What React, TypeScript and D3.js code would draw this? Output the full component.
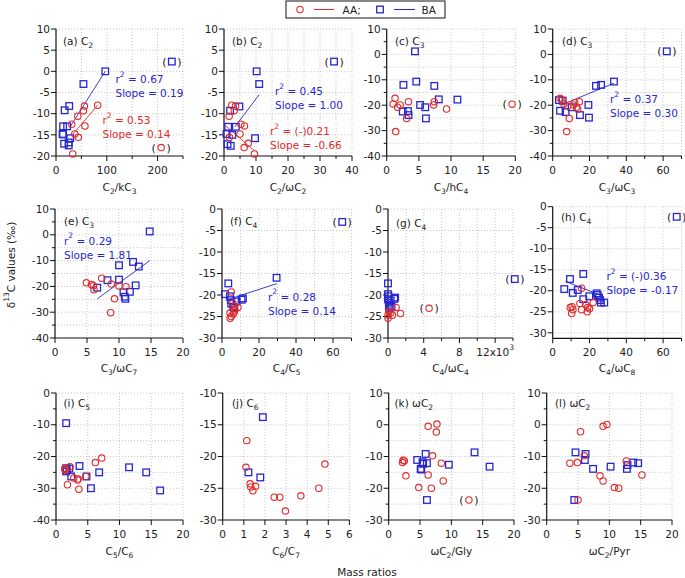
import React from "react";
import * as d3 from "d3";

type Pt = [number, number];

// ---------- data (x = mass ratio, y = δ13C ‰) ----------
const aRed: Pt[] = [[82,-8],[56,-8.2],[54,-9.3],[43,-10.6],[31,-12.5],[57,-12.9],[37,-14.8],[44,-15.6],[33,-19.5]];
const aRedOut: Pt[] = [[207,-18]];
const aBlue: Pt[] = [[97,0],[54,-3],[26,-8.2],[17,-9.2],[14,-13],[22,-13],[13,-14.8],[14,-14.9],[28,-15.8],[16,-17.1],[25,-17.5],[25,-16.8]];
const aBlueOut: Pt[] = [[228,2.3]];

const bRed: Pt[] = [[2.4,-8],[3.6,-8.2],[3.2,-9.3],[1.6,-10.6],[5.3,-12.5],[6.4,-12.9],[5,-14.8],[1.7,-15.6],[7.6,-17],[6.3,-18],[9.5,-19.5]];
const bBlue: Pt[] = [[10.2,0],[11,-3],[4.8,-8.3],[1.9,-9.3],[1.3,-13.1],[3.7,-13.1],[0.8,-14.8],[2.6,-15],[9.7,-15.8],[1.1,-17.2],[2.1,-17.6]];
const bBlueOut: Pt[] = [[34.4,2.3]];

const cRed: Pt[] = [[1.3,-17.3],[1,-19.5],[1.7,-20.8],[2.1,-19.9],[3.4,-18.6],[3.1,-25.2],[1.4,-30.4],[7.3,-19.9],[7.4,-18.6],[9.3,-21.5]];
const cRedOut: Pt[] = [[19.5,-19.6]];
const cBlue: Pt[] = [[4.4,1.2],[2.6,-12],[4.6,-10.7],[7.4,-12.4],[8.1,-17.7],[11,-17.8],[5.2,-19.9],[6,-20.8],[2.5,-22.5],[3.3,-22.3],[3.4,-23.9],[6.1,-25.2]];

const dRed: Pt[] = [[4,-17.3],[6.1,-19.5],[8.2,-20.3],[11.3,-19.9],[14.5,-18.6],[13,-20.8],[13.6,-21.6],[9,-25.2],[7.6,-30.4],[12,-19],[5,-18]];
const dBlue: Pt[] = [[33.3,-10.7],[26.3,-12],[23.5,-12.4],[19.4,-19.9],[19.7,-24.9],[14.8,-23.9],[10.3,-20.8],[4,-22.2],[7,-22.7],[3.4,-18],[5.4,-18.2]];
const dBlueOut: Pt[] = [[62,1.2]];

const eRed: Pt[] = [[4.9,-18.6],[5.7,-19.3],[6,-19.7],[6.1,-21.3],[7.3,-16.8],[8.8,-19.1],[10,-19.8],[11.1,-20.1],[9.3,-24.8],[8.7,-30.2]];
const eBlue: Pt[] = [[14.8,1.3],[10,-11.8],[12.2,-10.5],[13.1,-12.3],[8.2,-17.6],[10,-17.4],[12.6,-19.6],[10.7,-22.3],[11.7,-22.1],[10.9,-24],[11,-24.8],[6.6,-20.5]];

const fRed: Pt[] = [[5,-19.3],[5.9,-21.9],[6.8,-22.6],[8.6,-22.9],[4.3,-24.2],[5,-25],[6,-24.5],[6.5,-24],[7,-23.5],[4.4,-25.4]];
const fBlue: Pt[] = [[29.5,-16],[3.4,-17.3],[1.6,-19.8],[4.3,-20.3],[11.3,-20.8],[10.6,-21.1],[7.9,-21.5],[4.8,-21.2],[5,-22],[6.1,-22.8],[6.6,-23]];
const fBlueOut: Pt[] = [[65,-3]];

const gRed: Pt[] = [[0.9,-22.9],[1.4,-24.3],[0.5,-24.7],[0,-24.7],[0,-25.4],[0.1,-23.9],[0.3,-24.2]];
const gRedOut: Pt[] = [[4.6,-23.1]];
const gBlue: Pt[] = [[0,-17.3],[0,-19.8],[0.05,-20.3],[0.7,-20.9],[0.8,-20.6],[0.3,-21.3],[0.1,-21.8],[0.2,-22.3],[0.1,-23],[0.4,-22.7],[0,-21]];
const gBlueOut: Pt[] = [[14.2,-16.3]];

const hRed: Pt[] = [[15.7,-19.4],[9.5,-24],[10.5,-23.8],[11,-24.5],[10.3,-25.4],[14.8,-23],[15.7,-24.5],[18,-23.3],[19,-24],[20,-24.3],[22,-22.8],[18.8,-25]];
const hBlue: Pt[] = [[9.4,-17.2],[16.6,-16],[6.3,-19.6],[10.9,-20.5],[13.6,-19.8],[16.6,-22],[19.9,-21.3],[23.9,-20.6],[24.4,-21],[25.2,-21.6],[25.7,-22.2],[26.2,-22.8],[28,-22.8]];
const hBlueOut: Pt[] = [[67.4,-2.4]];

const iRed: Pt[] = [[7.2,-20.5],[6.2,-21.9],[2.2,-23.2],[1.8,-28.9],[3.6,-30.3],[3.5,-27.1],[3.4,-27.4],[2.8,-26.8],[4.7,-26.3],[1.4,-24],[1.5,-24.4],[1.4,-23.7]];
const iBlue: Pt[] = [[1.6,-9.5],[3.7,-23],[11.5,-23.4],[14.2,-25],[16.4,-30.7],[6.8,-25],[4.8,-26.3],[5.5,-30],[2.4,-26.3],[1.6,-23.7],[1.7,-24.3],[2.1,-23.8],[1.6,-24.7]];

const jRed: Pt[] = [[1.14,-17.5],[1.1,-21.7],[1.3,-24.3],[1.33,-24.8],[1.43,-25.4],[1.56,-24.7],[2.44,-26.4],[2.7,-26.4],[2.97,-28.6],[3.7,-26.2],[4.55,-25],[4.84,-21.2]];
const jBlue: Pt[] = [[1.9,-13.8],[1.22,-22.5],[1.78,-23.3]];

const kRed: Pt[] = [[6.3,-0.5],[7.7,0.2],[7.6,-2.3],[7,-9.8],[2.3,-11.2],[2.2,-11.9],[2.5,-11.4],[2.75,-16.1],[6.3,-15.8],[8.4,-12.1],[8.7,-17.7],[4.8,-19.8],[6.8,-20]];
const kRedOut: Pt[] = [[12.8,-23.7]];
const kBlue: Pt[] = [[5.9,-9.2],[4.55,-11.1],[5.4,-11.8],[5.5,-12.3],[6.1,-12.1],[5.1,-13.9],[5.2,-14.1],[9.6,-12.6],[13.7,-8.7],[16.1,-13.2],[6.1,-23.7]];

const lRed: Pt[] = [[5.4,-2.2],[9,-0.5],[9.6,0.1],[3.7,-12.1],[4.9,-11.9],[6,-9.8],[8.5,-16.1],[9,-17.7],[10.8,-19.8],[11.5,-20],[12.7,-11.4],[15.2,-15.8],[5,-23.7]];
const lBlue: Pt[] = [[4.6,-8.7],[6.2,-9.2],[6.1,-11.1],[7.4,-13.9],[10.2,-13.2],[12.8,-13.9],[12.9,-12.7],[13.8,-11.9],[14.6,-12.1],[4.4,-23.7]];

// regression fits: [x0, x1, slope, intercept]
const aFitBlue = [27, 97, 0.19, -18.4];
const aFitRed = [33, 82, 0.14, -19.5];
const bFitBlue = [3.4, 11, 1.0, -16.5];
const bFitRed = [0.5, 9.5, -0.66, -12.5];
const dFitBlue = [5, 33.3, 0.30, -21.3];
const eFitBlue = [6.6, 14.8, 1.81, -36.8];
const fFitBlue = [2, 29.5, 0.14, -21.5];
const hFitBlue = [7, 27, -0.17, -16.6];

const seq = (a: number, b: number, s: number) => d3.range(a, b + s / 2, s);

const RED = "#e22a2a";
const BLUE = "#2626d2";
const FONT = "DejaVu Sans, Verdana, sans-serif";
const FS = 10.5;

function segs(text: string) {
  const out: { t: string; m: number }[] = [];
  let i = 0, buf = "";
  while (i < text.length) {
    const c = text[i];
    if (c === "_" || c === "^") {
      if (buf) { out.push({ t: buf, m: 0 }); buf = ""; }
      let j = i + 1, s = "";
      if (text[j] === "{") { j++; while (j < text.length && text[j] !== "}") { s += text[j]; j++; } j++; }
      else { s = text[j]; j++; }
      out.push({ t: s, m: c === "_" ? 1 : -1 });
      i = j;
    } else { buf += c; i++; }
  }
  if (buf) out.push({ t: buf, m: 0 });
  return out;
}

function rich(text: string, fs: number) {
  let cur = 0;
  return segs(text).map((s, k) => {
    const target = s.m === 1 ? fs * 0.3 : s.m === -1 ? -fs * 0.6 : 0;
    const dy = target - cur;
    cur = target;
    return (
      <tspan key={k} dy={dy} fontSize={s.m ? fs * 0.72 : fs}>{s.t}</tspan>
    );
  });
}

interface Ann { dx: number; dy: number; color: string; lines: string[] }
interface PanelCfg {
  left: number; right: number; top: number; bottom: number;
  xDom: number[]; yDom: number[];
  xMajor: number[]; xMinor: number[]; yMajor: number[]; yMinor: number[];
  xFmt?: (v: number) => string;
  red: Pt[]; blue: Pt[]; redOut?: Pt[]; blueOut?: Pt[];
  fits: { f: number[]; color: string }[];
  label: string; labelPos: number[];
  xTitle: string; titleY: number;
  anns: Ann[];
}

const panels: PanelCfg[] = [
  { left: 56, right: 183, top: 29, bottom: 156, xDom: [0, 250], yDom: [-20, 10],
    xMajor: [0, 100, 200], xMinor: [50, 150, 250], yMajor: seq(-20, 10, 5), yMinor: [],
    red: aRed, blue: aBlue, redOut: aRedOut, blueOut: aBlueOut,
    fits: [{ f: aFitBlue, color: BLUE }, { f: aFitRed, color: RED }],
    label: "(a) C_2", labelPos: [63, 45], xTitle: "C_2/kC_3", titleY: 191,
    anns: [{ dx: 115.5, dy: 83, color: BLUE, lines: ["r^2 = 0.67", "Slope = 0.19"] },
           { dx: 102.5, dy: 124, color: RED, lines: ["r^2 = 0.53", "Slope = 0.14"] }] },
  { left: 224, right: 352, top: 29, bottom: 156, xDom: [0, 40], yDom: [-20, 10],
    xMajor: seq(0, 40, 10), xMinor: seq(5, 35, 10), yMajor: seq(-20, 10, 5), yMinor: [],
    red: bRed, blue: bBlue, blueOut: bBlueOut,
    fits: [{ f: bFitBlue, color: BLUE }, { f: bFitRed, color: RED }],
    label: "(b) C_2", labelPos: [232, 45], xTitle: "C_2/ωC_2", titleY: 191,
    anns: [{ dx: 275, dy: 95, color: BLUE, lines: ["r^2 = 0.45", "Slope = 1.00"] },
           { dx: 270, dy: 135, color: RED, lines: ["r^2 = (-)0.21", "Slope = -0.66"] }] },
  { left: 386.7, right: 515.3, top: 29, bottom: 156, xDom: [0, 20], yDom: [-40, 10],
    xMajor: seq(0, 20, 5), xMinor: [], yMajor: seq(-40, 10, 10), yMinor: seq(-35, 5, 10),
    red: cRed, blue: cBlue, redOut: cRedOut,
    fits: [], label: "(c) C_3", labelPos: [395, 45], xTitle: "C_3/hC_4", titleY: 191, anns: [] },
  { left: 552.7, right: 681.5, top: 29, bottom: 156, xDom: [0, 70], yDom: [-40, 10],
    xMajor: [0, 20, 40, 60], xMinor: [10, 30, 50, 70], yMajor: seq(-40, 10, 10), yMinor: seq(-35, 5, 10),
    red: dRed, blue: dBlue, blueOut: dBlueOut,
    fits: [{ f: dFitBlue, color: BLUE }],
    label: "(d) C_3", labelPos: [562, 45], xTitle: "C_3/ωC_3", titleY: 191,
    anns: [{ dx: 610, dy: 103, color: BLUE, lines: ["r^2 = 0.37", "Slope = 0.30"] }] },
  { left: 55, right: 183, top: 209, bottom: 338, xDom: [0, 20], yDom: [-40, 10],
    xMajor: seq(0, 20, 5), xMinor: [], yMajor: seq(-40, 10, 10), yMinor: seq(-35, 5, 10),
    red: eRed, blue: eBlue,
    fits: [{ f: eFitBlue, color: BLUE }],
    label: "(e) C_3", labelPos: [64, 225], xTitle: "C_3/ωC_7", titleY: 372,
    anns: [{ dx: 64, dy: 244.5, color: BLUE, lines: ["r^2 = 0.29", "Slope = 1.81"] }] },
  { left: 222, right: 351.5, top: 209, bottom: 338, xDom: [0, 70], yDom: [-30, 0],
    xMajor: [0, 20, 40, 60], xMinor: [10, 30, 50, 70], yMajor: seq(-30, 0, 5), yMinor: [],
    red: fRed, blue: fBlue, blueOut: fBlueOut,
    fits: [{ f: fFitBlue, color: BLUE }],
    label: "(f) C_4", labelPos: [230, 225], xTitle: "C_4/C_5", titleY: 372,
    anns: [{ dx: 268, dy: 300.5, color: BLUE, lines: ["r^2 = 0.28", "Slope = 0.14"] }] },
  { left: 388, right: 513, top: 209, bottom: 338, xDom: [0, 14], yDom: [-30, 0],
    xMajor: [0, 4, 8, 12], xMinor: [2, 6, 10, 14], yMajor: seq(-30, 0, 5), yMinor: [],
    xFmt: (v) => (v === 12 ? "12x10^3" : String(v)),
    red: gRed, blue: gBlue, redOut: gRedOut, blueOut: gBlueOut,
    fits: [], label: "(g) C_4", labelPos: [396, 227], xTitle: "C_4/ωC_4", titleY: 372, anns: [] },
  { left: 552.7, right: 681.5, top: 206.7, bottom: 338.3, xDom: [0, 70], yDom: [-31.3, 0],
    xMajor: [0, 20, 40, 60], xMinor: [10, 30, 50, 70], yMajor: seq(-30, 0, 5), yMinor: [],
    red: hRed, blue: hBlue, blueOut: hBlueOut,
    fits: [{ f: hFitBlue, color: BLUE }],
    label: "(h) C_4", labelPos: [561, 221], xTitle: "C_4/ωC_8", titleY: 372,
    anns: [{ dx: 606.5, dy: 280, color: BLUE, lines: ["r^2 = (-)0.36", "Slope = -0.17"] }] },
  { left: 56, right: 183, top: 393, bottom: 520, xDom: [0, 20], yDom: [-40, 0],
    xMajor: seq(0, 20, 5), xMinor: [], yMajor: seq(-40, 0, 10), yMinor: seq(-35, -5, 10),
    red: iRed, blue: iBlue,
    fits: [], label: "(i) C_5", labelPos: [63.5, 407], xTitle: "C_5/C_6", titleY: 555, anns: [] },
  { left: 222.7, right: 349.4, top: 393, bottom: 520, xDom: [0, 6], yDom: [-30, -10],
    xMajor: seq(0, 6, 1), xMinor: [], yMajor: seq(-30, -10, 5), yMinor: [],
    red: jRed, blue: jBlue,
    fits: [], label: "(j) C_6", labelPos: [232, 407], xTitle: "C_6/C_7", titleY: 555, anns: [] },
  { left: 388.7, right: 514, top: 393, bottom: 520, xDom: [0, 20], yDom: [-30, 10],
    xMajor: seq(0, 20, 5), xMinor: [], yMajor: seq(-30, 10, 10), yMinor: seq(-25, 5, 10),
    red: kRed, blue: kBlue, redOut: kRedOut,
    fits: [], label: "(k) ωC_2", labelPos: [394.5, 407], xTitle: "ωC_2/Gly", titleY: 555, anns: [] },
  { left: 546.7, right: 672, top: 393, bottom: 520, xDom: [0, 20], yDom: [-30, 10],
    xMajor: seq(0, 20, 5), xMinor: [], yMajor: seq(-30, 10, 10), yMinor: seq(-25, 5, 10),
    red: lRed, blue: lBlue,
    fits: [], label: "(l) ωC_2", labelPos: [555, 407], xTitle: "ωC_2/Pyr", titleY: 555, anns: [] },
];

const SQ = 6.6;
const CR = 3.2;

function Square({ cx, cy }: { cx: number; cy: number }) {
  return <rect x={cx - SQ / 2} y={cy - SQ / 2} width={SQ} height={SQ} fill="none" stroke={BLUE} strokeWidth={1.3} />;
}
function Circ({ cx, cy }: { cx: number; cy: number }) {
  return <circle cx={cx} cy={cy} r={CR} fill="none" stroke={RED} strokeWidth={1.1} />;
}
function Parens({ cx, cy }: { cx: number; cy: number }) {
  return (
    <g fontFamily={FONT} fontSize={11} fill="#222" textAnchor="middle">
      <text x={cx - 7.5} y={cy + 4}>(</text>
      <text x={cx + 7.5} y={cy + 4}>)</text>
    </g>
  );
}

function Panel({ p }: { p: PanelCfg }) {
  const x = d3.scaleLinear().domain(p.xDom).range([p.left, p.right]);
  const y = d3.scaleLinear().domain(p.yDom).range([p.bottom, p.top]);
  const gx = [...p.xMajor, ...p.xMinor].filter((v) => v > p.xDom[0] && v <= p.xDom[1]);
  const gy = [...p.yMajor, ...p.yMinor].filter((v) => v > p.yDom[0] && v <= p.yDom[1]);
  const fmt = p.xFmt || ((v: number) => String(v));
  const line = d3.line<Pt>().x((d) => x(d[0])).y((d) => y(d[1]));
  return (
    <g>
      {gx.map((v) => (
        <line key={"gx" + v} x1={x(v)} x2={x(v)} y1={p.top} y2={p.bottom} stroke="#b8b8b8" strokeWidth={0.8} strokeDasharray="1,2" />
      ))}
      {gy.map((v) => (
        <line key={"gy" + v} x1={p.left} x2={p.right} y1={y(v)} y2={y(v)} stroke="#b8b8b8" strokeWidth={0.8} strokeDasharray="1,2" />
      ))}
      <line x1={p.left} x2={p.left} y1={p.top} y2={p.bottom} stroke="#111" strokeWidth={1.2} />
      <line x1={p.left} x2={p.right} y1={p.bottom} y2={p.bottom} stroke="#111" strokeWidth={1.2} />
      {p.yMajor.map((v) => (
        <g key={"ym" + v}>
          <line x1={p.left - 5} x2={p.left} y1={y(v)} y2={y(v)} stroke="#111" strokeWidth={1} />
          <text x={p.left - 6} y={y(v)} dy="0.35em" textAnchor="end" fontFamily={FONT} fontSize={FS} fill="#222">{String(v)}</text>
        </g>
      ))}
      {p.yMinor.map((v) => (
        <line key={"yn" + v} x1={p.left - 3} x2={p.left} y1={y(v)} y2={y(v)} stroke="#111" strokeWidth={1} />
      ))}
      {p.xMajor.map((v) => (
        <g key={"xm" + v}>
          <line x1={x(v)} x2={x(v)} y1={p.bottom} y2={p.bottom + 5} stroke="#111" strokeWidth={1} />
          <text x={x(v)} y={p.bottom + 18} textAnchor="middle" fontFamily={FONT} fontSize={FS} fill="#222">{rich(fmt(v), FS)}</text>
        </g>
      ))}
      {p.xMinor.map((v) => (
        <line key={"xn" + v} x1={x(v)} x2={x(v)} y1={p.bottom} y2={p.bottom + 3} stroke="#111" strokeWidth={1} />
      ))}
      {p.fits.map((ft, k) => {
        const [x0, x1, s, c] = ft.f;
        const pts: Pt[] = [[x0, s * x0 + c], [x1, s * x1 + c]];
        return <path key={"f" + k} d={line(pts) || ""} stroke={ft.color} strokeWidth={0.9} fill="none" />;
      })}
      {p.blue.map((d, k) => <Square key={"b" + k} cx={x(d[0])} cy={y(d[1])} />)}
      {(p.blueOut || []).map((d, k) => (
        <g key={"bo" + k}><Square cx={x(d[0])} cy={y(d[1])} /><Parens cx={x(d[0])} cy={y(d[1])} /></g>
      ))}
      {p.red.map((d, k) => <Circ key={"r" + k} cx={x(d[0])} cy={y(d[1])} />)}
      {(p.redOut || []).map((d, k) => (
        <g key={"ro" + k}><Circ cx={x(d[0])} cy={y(d[1])} /><Parens cx={x(d[0])} cy={y(d[1])} /></g>
      ))}
      <text x={p.labelPos[0]} y={p.labelPos[1]} fontFamily={FONT} fontSize={FS} fill="#222">{rich(p.label, FS)}</text>
      {p.anns.map((a, k) => (
        <g key={"a" + k} fontFamily={FONT} fontSize={FS} fill={a.color}>
          {a.lines.map((t, i) => (
            <text key={i} x={a.dx} y={a.dy + i * 14}>{rich(t, FS)}</text>
          ))}
        </g>
      ))}
      <text x={(p.left + p.right) / 2} y={p.titleY} textAnchor="middle" fontFamily={FONT} fontSize={FS} fill="#222">{rich(p.xTitle, FS)}</text>
    </g>
  );
}

export default function App() {
  return (
    <svg width={685} height={578} style={{ position: "absolute", left: 0, top: 0, background: "#fff" }}>
      <rect width={685} height={578} fill="#fff" />
      {panels.map((p, i) => <Panel key={i} p={p} />)}
      <g fontFamily={FONT} fontSize={FS} fill="#222">
        <rect x={286} y={1} width={159} height={17} fill="#fff" stroke="#111" strokeWidth={1} />
        <Circ cx={300} cy={9.5} />
        <line x1={314} x2={334} y1={9.5} y2={9.5} stroke={RED} strokeWidth={1} />
        <text x={342.5} y={13.5}>AA;</text>
        <Square cx={380} cy={9.5} />
        <line x1={394} x2={415} y1={9.5} y2={9.5} stroke={BLUE} strokeWidth={1} />
        <text x={421.5} y={13.5}>BA</text>
      </g>
      <text transform="translate(15,265) rotate(-90)" textAnchor="middle" fontFamily={FONT} fontSize={FS} fill="#222">{rich("δ^{13}C values (‰)", FS)}</text>
      <text x={367} y={576} textAnchor="middle" fontFamily={FONT} fontSize={FS} fill="#222">Mass ratios</text>
    </svg>
  );
}
